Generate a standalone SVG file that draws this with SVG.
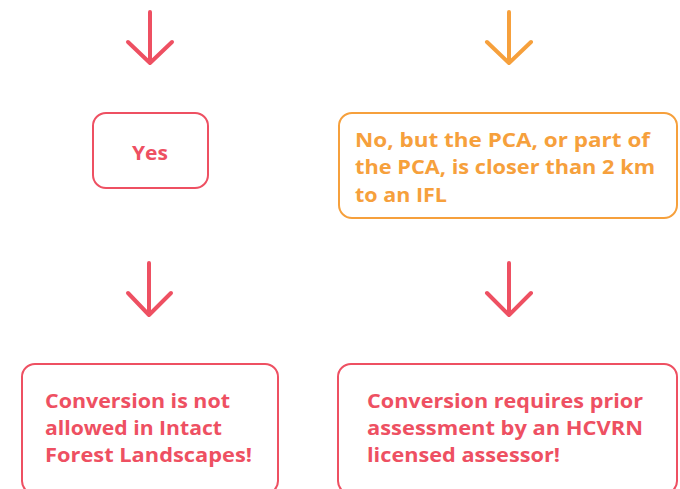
<svg xmlns="http://www.w3.org/2000/svg" width="680" height="489" viewBox="0 0 680 489">
<style>
.r{stroke:#EE5062}
.o{stroke:#F6A03C}
.box{fill:#fff;stroke-width:2}
.arr{fill:none;stroke-width:4;stroke-linecap:round;stroke-linejoin:round}
text{font-family:"Open Sans",Lato,sans-serif;font-weight:700;font-size:20px}
.tr{fill:#EE5062}
.to{fill:#F6A03C}
</style>
<rect width="680" height="489" fill="#fff"/>
<g id="connectors">
<path class="arr r" d="M150 12V63M128 42L150 63L172 42"/>
<path class="arr o" d="M509 12V63M487 42L509 63L531 42"/>
<path class="arr r" d="M149 263V315M128 293L149 315L171 293"/>
<path class="arr r" d="M509 263V315M487 293L509 315L531 293"/>
</g>
<g id="yes">
<rect class="box r" x="93" y="113" width="115" height="75" rx="13"/>
<text class="tr" x="132" y="160" textLength="36" lengthAdjust="spacingAndGlyphs">Yes</text>
</g>
<g id="no">
<rect class="box o" x="339" y="113" width="338" height="105" rx="13"/>
<text class="to" x="355" y="147" textLength="295" lengthAdjust="spacingAndGlyphs">No, but the PCA, or part of</text>
<text class="to" x="355" y="174" textLength="300" lengthAdjust="spacingAndGlyphs">the PCA, is closer than 2 km</text>
<text class="to" x="355" y="202" textLength="92" lengthAdjust="spacingAndGlyphs">to an IFL</text>
</g>
<g id="notallowed">
<rect class="box r" x="22" y="364" width="256" height="130" rx="13"/>
<text class="tr" x="45" y="408" textLength="185" lengthAdjust="spacingAndGlyphs">Conversion is not</text>
<text class="tr" x="45" y="435" textLength="177" lengthAdjust="spacingAndGlyphs">allowed in Intact</text>
<text class="tr" x="45" y="462" textLength="207" lengthAdjust="spacingAndGlyphs">Forest Landscapes!</text>
</g>
<g id="requires">
<rect class="box r" x="338" y="364" width="339" height="130" rx="13"/>
<text class="tr" x="367" y="408" textLength="276" lengthAdjust="spacingAndGlyphs">Conversion requires prior</text>
<text class="tr" x="367" y="435" textLength="276" lengthAdjust="spacingAndGlyphs">assessment by an HCVRN</text>
<text class="tr" x="367" y="462" textLength="193" lengthAdjust="spacingAndGlyphs">licensed assessor!</text>
</g>
</svg>
